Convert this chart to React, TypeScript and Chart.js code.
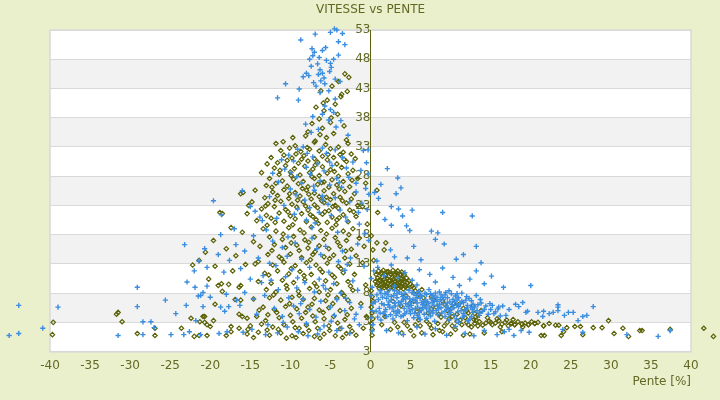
import React, { useEffect, useRef } from 'react';
import Chart from 'chart.js/auto';

// [pente %, vitesse] pairs
const bluePoints: number[][] = [
  // top spike
  [-4.5, 53.2], [-4.2, 53], [-3.5, 52.4], [-6.9, 52.3], [-5.0, 52.6], [-8.7, 51.3], [-4.0, 51.0], [-3.2, 50.5],
  [-5.6, 50.0], [-7.3, 49.8], [-7.0, 49.2], [-6.0, 49.5], [-7.2, 48.6], [-6.4, 48.3], [-4.6, 48.0], [-5.5, 47.8],
  [-7.6, 48.0], [-4.0, 48.7], [-6.6, 47.2], [-5.0, 47.3], [-7.4, 46.8], [-4.9, 46.6], [-6.3, 46.2], [-6.0, 45.6],
  [-5.1, 45.9], [-8.0, 45.6], [-7.7, 45.2], [-6.5, 45.4], [-5.8, 44.8], [-8.4, 45.0], [-4.4, 44.6], [-6.2, 44.3],
  [-7.1, 44.0], [-5.7, 43.8], [-3.8, 44.2], [-6.8, 43.4], [-8.9, 42.9], [-5.2, 42.6], [-6.3, 42.3], [-10.6, 43.8],
  [-11.6, 41.4], [-9.0, 41.0], [-4.4, 41.2], [-5.7, 40.0], [-5.0, 39.4], [-6.0, 38.6], [-7.2, 38.2], [-4.6, 38.9],
  [-3.7, 37.5], [-8.1, 36.9], [-5.2, 37.6], [-6.5, 36.0], [-2.8, 35.0], [-7.4, 35.5], [-4.3, 36.4],
  // middle of the left cloud
  [-8.4, 33.0], [-9.1, 32.6], [-6.0, 32.8], [-4.4, 32.5], [-10.2, 31.6], [-7.2, 31.3], [-5.5, 31.9], [-3.5, 31.2],
  [-2.2, 30.4], [-9.6, 30.6], [-11.1, 30.8], [-6.6, 30.1], [-4.8, 29.8], [-8.0, 29.5], [-10.7, 29.2], [-3.0, 29.4],
  [-5.8, 28.9], [-7.5, 28.4], [-12.2, 28.5], [-9.2, 27.9], [-4.2, 27.6], [-2.7, 27.8], [-6.3, 27.2], [-8.6, 26.8],
  [-11.5, 27.0], [-5.1, 26.5], [-3.6, 26.1], [-10.0, 25.8], [-7.0, 25.6], [-1.8, 25.3], [-9.3, 24.8], [-6.0, 24.6],
  [-4.4, 24.3], [-12.6, 24.5], [-8.2, 23.9], [-2.6, 23.6], [-5.3, 23.2], [-10.8, 23.0], [-7.6, 22.6], [-3.8, 22.2],
  [-14.4, 22.0], [-6.4, 21.8], [-9.5, 21.5], [-1.5, 21.8], [-4.9, 21.3], [-11.7, 20.8], [-8.0, 20.5], [-2.9, 20.3],
  [-13.5, 20.4], [-6.9, 20.0],
  [-7.9, 31.9], [-5.1, 30.4], [-9.9, 28.6], [-3.9, 26.9], [-7.1, 26.3], [-5.9, 23.9], [-9.1, 22.4], [-3.1, 21.0],
  [-7.3, 19.2], [-4.1, 18.4], [-10.3, 17.6], [-6.7, 15.6], [-2.9, 12.9], [-9.1, 10.6], [-5.9, 9.3], [-3.1, 7.1],
  [-8.7, 6.2], [-4.9, 3.2], [-10.9, 3.0], [-6.3, 1.8], [-2.6, 1.1], [-13.1, 0.9],
  [-0.9, 32.4], [-0.5, 30.3], [-1.2, 29.0], [-0.3, 28.4], [-1.8, 26.8], [-0.6, 25.9], [-0.2, 24.9], [-1.1, 23.4],
  [-0.4, 22.3], [-1.4, 19.8], [-0.7, 18.2], [-0.2, 17.0], [-1.6, 16.4],
  [-19.6, 23.8], [-18.6, 21.4], [-16.0, 25.5], [-15.0, 22.8], [-13.8, 21.0], [-17.0, 19.0], [-18.7, 18.0], [-16.8, 16.3],
  [-14.6, 17.8], [-13.0, 18.8], [-12.2, 16.9], [-15.7, 15.2], [-19.0, 14.6], [-20.7, 15.6], [-17.6, 13.6], [-14.0, 14.0],
  [-12.6, 13.1], [-16.2, 12.2], [-20.4, 12.4], [-18.3, 11.6], [-13.4, 11.0], [-15.0, 10.4], [-22.0, 11.8], [-23.2, 16.3],
  [-21.4, 13.5],
  // lower left cloud
  [-11.0, 15.8], [-9.4, 16.6], [-7.3, 17.4], [-5.6, 16.0], [-3.5, 15.2], [-10.4, 14.3], [-8.6, 13.8], [-6.2, 14.6],
  [-4.0, 13.4], [-2.5, 14.0], [-11.8, 12.7], [-9.8, 12.0], [-7.6, 12.4], [-5.2, 11.6], [-3.2, 11.9], [-12.4, 10.2],
  [-10.6, 10.8], [-8.2, 9.8], [-6.4, 10.4], [-4.6, 9.6], [-2.2, 10.1], [-11.5, 8.6], [-9.2, 8.9], [-7.0, 8.2],
  [-5.6, 8.7], [-3.7, 8.0], [-1.6, 8.5], [-13.2, 7.6], [-10.2, 7.2], [-8.4, 7.0], [-6.2, 6.6], [-4.2, 6.9],
  [-2.6, 6.4], [-12.0, 5.4], [-9.6, 5.8], [-7.6, 5.2], [-5.0, 5.6], [-3.2, 5.0], [-1.2, 5.6], [-14.2, 4.4],
  [-11.0, 4.0], [-8.9, 4.5], [-6.8, 3.9], [-4.5, 4.2], [-2.0, 3.6], [-12.8, 2.6], [-10.4, 2.2], [-8.0, 2.8],
  [-5.8, 2.4], [-3.6, 2.0], [-1.4, 2.6], [-11.6, 1.2], [-9.0, 1.4], [-6.6, 1.0], [-4.2, 1.6], [-7.8, 0.7],
  [-14.8, 1.8], [-13.6, 9.8], [-14.6, 7.0], [-0.8, 12.6], [-1.8, 4.4],
  // far left
  [-43.9, 5.9], [-45.1, 0.75], [-43.9, 1.1], [-40.9, 2.0], [-39.0, 5.6], [-29.1, 9.0], [-29.1, 5.7], [-28.4, 3.1],
  [-27.4, 3.1], [-31.5, 0.75], [-28.4, 0.9], [-27.0, 2.1], [-25.6, 6.8], [-24.9, 0.9], [-24.3, 4.5], [-23.3, 0.9],
  [-22.6, 1.4], [-23.0, 5.9], [-22.9, 9.9], [-21.9, 9.0], [-21.8, 3.3], [-21.5, 7.5], [-21.2, 7.6], [-20.9, 8.1],
  [-20.4, 9.2], [-20.0, 7.3], [-20.9, 5.7], [-21.2, 0.9], [-18.9, 1.1], [-18.7, 5.6], [-18.2, 4.9], [-17.9, 1.4],
  [-18.0, 7.8], [-17.7, 5.7], [-16.7, 6.8], [-16.3, 5.9], [-15.7, 8.1], [-15.9, 1.3],
  // on the zero line
  [0.2, 9.0], [0.1, 7.6], [0.3, 6.2], [0.2, 5.0], [0.1, 3.8], [0.3, 2.6], [0.2, 1.5], [0.1, 10.5], [0.4, 11.8],
  // right blob
  [1.2, 8.4], [2.4, 8.6], [3.6, 8.2], [4.8, 8.5], [6.0, 8.3], [7.3, 8.6], [8.6, 8.2], [9.8, 8.4], [11.4, 8.0],
  [0.8, 7.7], [1.8, 7.9], [2.9, 7.6], [3.9, 7.8], [4.6, 7.4], [5.4, 7.9], [6.4, 7.5], [7.0, 7.8], [7.9, 7.3],
  [8.8, 7.7], [9.6, 7.2], [10.6, 7.5], [12.0, 7.4], [13.2, 7.6],
  [1.0, 6.9], [2.0, 7.1], [2.6, 6.8], [3.3, 7.2], [4.1, 6.9], [4.9, 7.0], [5.6, 6.7], [6.2, 7.1], [6.9, 6.8],
  [7.6, 7.0], [8.3, 6.6], [9.1, 6.9], [9.9, 6.5], [10.8, 6.8], [11.6, 6.4], [12.6, 6.7], [13.8, 6.3],
  [1.4, 6.2], [2.2, 6.0], [3.0, 6.3], [3.7, 6.0], [4.4, 6.2], [5.1, 5.9], [5.8, 6.3], [6.5, 6.0], [7.2, 6.2],
  [7.9, 5.9], [8.6, 6.1], [9.4, 5.8], [10.2, 6.0], [11.0, 5.7], [12.1, 5.9], [13.0, 5.6], [14.4, 5.8],
  [1.1, 5.4], [1.9, 5.2], [2.7, 5.5], [3.4, 5.1], [4.2, 5.4], [4.9, 5.1], [5.6, 5.4], [6.3, 5.0], [7.0, 5.3],
  [7.7, 5.0], [8.5, 5.3], [9.3, 4.9], [10.0, 5.2], [10.9, 4.8], [11.8, 5.1], [12.8, 4.7], [14.0, 4.9], [15.4, 4.5],
  [1.6, 4.5], [2.5, 4.3], [3.3, 4.6], [4.1, 4.2], [5.0, 4.5], [5.9, 4.2], [6.7, 4.4], [7.5, 4.1], [8.4, 4.3],
  [9.3, 4.0], [10.4, 4.2], [11.5, 3.9], [12.6, 4.0], [13.6, 4.2], [16.2, 4.1],
  [1.5, 7.3], [2.3, 6.5], [3.1, 5.8], [3.9, 6.6], [4.7, 5.7], [5.3, 6.9], [5.9, 5.6], [6.7, 6.6], [7.4, 5.6],
  [8.0, 6.7], [8.8, 5.5], [9.6, 6.3], [10.4, 5.5], [11.2, 6.2], [12.0, 5.3], [12.8, 6.1], [1.8, 4.8], [2.9, 4.9],
  [3.8, 4.0], [4.5, 4.8], [5.4, 3.8], [6.1, 4.7], [7.0, 3.7], [7.8, 4.6], [8.9, 4.6], [9.8, 4.4], [10.7, 3.6],
  [11.6, 4.5], [12.4, 3.6], [13.3, 5.0], [14.7, 4.4], [15.0, 5.2], [2.1, 8.2], [3.3, 7.9], [4.3, 8.0], [5.7, 7.6],
  [6.8, 8.0], [8.1, 8.0], [9.3, 7.7], [10.1, 7.9], [11.0, 7.2], [0.6, 6.5], [0.7, 4.9], [0.9, 3.9],
  [1.3, 8.0], [2.6, 7.4], [3.5, 6.4], [4.4, 7.1], [5.0, 6.4], [5.8, 7.2], [6.5, 5.5], [7.1, 6.5], [7.8, 7.6],
  [8.4, 5.8], [9.0, 7.3], [9.7, 5.5], [10.5, 6.5], [11.3, 5.0], [11.9, 6.8], [12.5, 5.6], [13.4, 6.0], [14.2, 5.2],
  [1.7, 6.0], [2.4, 5.6], [3.6, 4.8], [4.8, 6.0], [5.5, 4.6], [6.4, 6.4], [7.3, 4.8], [8.2, 5.0], [9.1, 6.2],
  [10.0, 4.7], [10.8, 5.9], [11.7, 4.2], [12.7, 5.2], [13.6, 4.6], [2.0, 4.0], [3.2, 4.2], [4.3, 4.5], [5.2, 5.2],
  [6.0, 3.9], [6.9, 5.8], [7.7, 6.4], [8.7, 6.9], [9.5, 5.2], [10.3, 6.9], [11.4, 6.6], [12.3, 7.1], [1.2, 4.6],
  [2.2, 7.7], [3.0, 8.4], [4.0, 7.4], [5.2, 8.1], [6.2, 7.7], [7.5, 7.9], [8.3, 7.3], [9.4, 8.1], [10.8, 7.9],
  [14.9, 6.2], [15.6, 4.8], [16.0, 5.6],
  [1.3, 3.4], [2.8, 3.6], [4.6, 3.3], [6.2, 3.5], [8.0, 3.2], [9.8, 3.4], [11.0, 3.0], [12.2, 3.3],
  [2.0, 1.6], [3.5, 1.2], [4.1, 0.9], [5.8, 2.2], [6.8, 1.0], [8.1, 1.9], [9.5, 0.8], [10.6, 2.3], [11.8, 1.1],
  [12.9, 0.7], [14.2, 1.6], [15.8, 0.9],
  [0.9, 12.4], [1.7, 11.0], [2.6, 12.8], [3.4, 10.6], [4.3, 11.5], [5.2, 10.2], [6.1, 12.0], [7.4, 11.2], [8.1, 9.9],
  [9.0, 12.3], [10.3, 10.7], [11.1, 9.3], [12.4, 10.4], [13.2, 11.8], [14.2, 9.6], [15.1, 10.9], [5.8, 9.4], [3.0, 9.2],
  [16.6, 9.0],
  // right tail
  [15.2, 5.9], [13.7, 6.9], [16.9, 4.2], [17.3, 5.2], [18.1, 6.1], [18.5, 5.7], [19.0, 6.4], [19.4, 4.7], [19.6, 4.9],
  [20.9, 4.7], [21.5, 4.0], [21.6, 4.9], [22.3, 4.5], [22.8, 4.7], [23.4, 5.0], [23.4, 5.6], [23.4, 6.0], [24.2, 4.2],
  [24.7, 4.7], [25.3, 4.7], [25.9, 3.3], [26.5, 4.0], [27.0, 4.2], [27.8, 5.7], [24.0, 1.8], [26.5, 1.3], [32.0, 0.9],
  [35.9, 0.6], [37.4, 1.6], [20.0, 9.3], [19.8, 1.3], [18.8, 1.6], [17.9, 0.75], [16.7, 1.4], [17.3, 1.8], [15.9, 5.3],
  [16.5, 5.8],
  // upper right
  [3.4, 27.7], [2.1, 29.3], [-0.3, 32.5], [1.3, 26.6], [0.5, 25.2], [3.8, 26.0], [3.2, 25.0], [1.0, 24.2], [2.6, 22.8],
  [3.5, 22.4], [5.2, 22.2], [9.0, 21.8], [12.7, 21.2], [4.0, 21.2], [1.8, 20.6], [4.5, 19.5], [4.9, 18.7], [2.6, 19.6],
  [7.6, 18.6], [8.4, 18.3], [8.1, 17.2], [9.2, 16.4], [13.2, 16.0], [5.4, 16.0], [2.5, 15.4], [6.3, 13.7], [0.8, 13.5],
  [3.0, 14.2], [4.6, 14.0], [11.6, 14.6], [13.8, 13.2], [10.7, 13.8],
];

const olivePoints: number[][] = [
  // top spike
  [-3.2, 45.5], [-2.7, 44.9], [-4.0, 44.2], [-4.8, 43.4], [-6.2, 42.6], [-3.6, 42.0], [-5.4, 41.0], [-4.4, 40.3],
  [-6.8, 39.8], [-5.8, 39.2], [-4.1, 38.6], [-6.4, 37.8], [-7.3, 37.0], [-5.0, 37.2], [-3.3, 36.6], [-6.0, 36.2],
  [-7.8, 35.6], [-4.6, 35.3], [-5.5, 34.6], [-3.0, 34.2], [-6.9, 34.0], [-3.7, 41.6], [-2.9, 42.5], [-4.9, 38.0],
  [-5.9, 40.5],
  // middle of the left cloud
  [-11.8, 33.6], [-9.4, 33.2], [-7.0, 33.8], [-5.6, 33.4], [-4.0, 33.0], [-2.8, 33.6],
  [-11.2, 32.4], [-10.1, 32.8], [-8.7, 32.2], [-7.6, 32.6], [-6.4, 32.3], [-5.0, 32.7], [-3.4, 32.1], [-2.4, 31.8],
  [-12.4, 31.2], [-10.8, 31.6], [-9.8, 31.1], [-8.3, 31.5], [-7.0, 31.0], [-6.0, 31.4], [-4.6, 31.2], [-3.8, 31.7], [-1.9, 31.0],
  [-11.6, 30.3], [-10.4, 30.7], [-9.0, 30.2], [-7.8, 30.6], [-6.6, 30.4], [-5.4, 30.8], [-4.2, 30.1], [-3.0, 30.5],
  [-12.0, 29.4], [-10.6, 29.8], [-9.5, 29.3], [-8.2, 29.7], [-7.2, 29.2], [-6.0, 29.6], [-5.0, 29.1], [-3.6, 29.5], [-2.2, 29.0],
  [-13.6, 28.6], [-11.4, 28.3], [-10.0, 28.7], [-8.8, 28.2], [-7.6, 28.6], [-6.4, 28.1], [-5.4, 28.5], [-4.0, 28.0], [-2.8, 28.4],
  [-12.6, 27.6], [-11.0, 27.2], [-9.6, 27.5], [-8.4, 27.1], [-7.0, 27.6], [-5.8, 27.0], [-4.8, 27.4], [-3.4, 27.1], [-1.6, 27.6],
  [-13.0, 26.4], [-11.8, 26.8], [-10.4, 26.3], [-9.0, 26.7], [-7.8, 26.2], [-6.6, 26.6], [-5.2, 26.1], [-4.2, 26.5], [-2.6, 26.2],
  [-14.4, 25.6], [-12.2, 25.3], [-10.8, 25.7], [-9.4, 25.2], [-8.0, 25.6], [-7.0, 25.1], [-5.8, 25.5], [-4.6, 25.0], [-3.2, 25.4], [-2.0, 25.0],
  [-13.2, 24.3], [-11.6, 24.7], [-10.2, 24.2], [-8.8, 24.6], [-7.4, 24.1], [-6.4, 24.5], [-5.0, 24.0], [-3.8, 24.4], [-2.4, 24.1],
  [-14.8, 23.6], [-12.8, 23.3], [-11.2, 23.7], [-9.8, 23.2], [-8.4, 23.6], [-7.0, 23.1], [-5.8, 23.5], [-4.4, 23.0], [-3.0, 23.4], [-1.6, 23.0],
  [-13.6, 22.4], [-12.0, 22.8], [-10.6, 22.3], [-9.2, 22.7], [-7.8, 22.2], [-6.6, 22.6], [-5.2, 22.1], [-4.0, 22.5], [-2.6, 22.2],
  [-15.4, 21.6], [-13.0, 21.3], [-11.4, 21.7], [-10.0, 21.2], [-8.6, 21.6], [-7.2, 21.1], [-6.0, 21.5], [-4.8, 21.0], [-3.4, 21.4], [-1.8, 21.1],
  [-14.2, 20.4], [-12.4, 20.8], [-10.8, 20.3], [-9.4, 20.7], [-8.0, 20.2], [-6.8, 20.6], [-5.4, 20.1], [-4.2, 20.5], [-2.8, 20.2],
  [-9.7, 34.6], [-8.1, 34.9], [-6.3, 35.1], [-10.9, 33.9], [-7.9, 32.9], [-5.3, 31.7], [-9.3, 31.8], [-12.9, 30.1],
  [-8.6, 30.9], [-3.3, 30.9], [-6.9, 29.9], [-11.3, 29.0], [-4.5, 28.8], [-7.3, 27.9], [-9.9, 28.1], [-2.3, 27.3],
  [-12.3, 26.1], [-6.1, 26.9], [-8.5, 25.9], [-3.9, 25.8], [-10.1, 25.0], [-5.5, 24.4], [-7.7, 24.9], [-11.9, 23.9],
  [-3.5, 23.8], [-9.1, 23.9], [-6.1, 23.8], [-13.1, 22.9], [-4.7, 22.8], [-8.1, 22.9], [-10.3, 21.9], [-5.7, 21.9],
  [-7.5, 21.4], [-2.1, 21.9], [-11.9, 20.1], [-3.9, 20.9], [-9.7, 19.7], [-6.5, 19.9], [-12.9, 19.6], [-4.3, 19.7],
  [-18.8, 21.8], [-18.5, 21.6], [-16.2, 25.0], [-15.9, 25.2], [-15.2, 23.0], [-17.4, 19.2], [-16.0, 18.4], [-19.6, 17.0],
  [-20.6, 15.0], [-21.4, 13.6], [-18.0, 15.6], [-16.8, 14.4], [-19.4, 12.6], [-17.2, 11.8], [-20.2, 10.4], [-15.6, 12.9],
  [-18.6, 9.6], [-16.4, 9.0], [-14.6, 16.8], [-14.0, 13.4], [-22.2, 12.8],
  // lower left cloud
  [-13.4, 19.0], [-11.8, 18.6], [-10.2, 19.2], [-8.8, 18.8], [-7.4, 19.3], [-6.2, 18.7], [-4.8, 19.1], [-3.4, 18.6], [-2.2, 19.0],
  [-12.6, 17.6], [-11.0, 17.2], [-9.6, 17.7], [-8.2, 17.1], [-7.0, 17.6], [-5.8, 17.2], [-4.4, 17.5], [-3.0, 17.0], [-1.4, 17.4],
  [-13.8, 16.0], [-12.0, 16.3], [-10.6, 15.8], [-9.2, 16.2], [-7.8, 15.7], [-6.4, 16.1], [-5.2, 15.6], [-3.8, 16.0], [-2.4, 15.5],
  [-12.8, 14.6], [-11.4, 14.2], [-10.0, 14.7], [-8.6, 14.1], [-7.2, 14.6], [-5.8, 14.2], [-4.6, 14.5], [-3.2, 14.0], [-1.8, 14.4],
  [-14.4, 13.0], [-12.2, 12.8], [-10.8, 13.3], [-9.4, 12.7], [-8.0, 13.2], [-6.8, 12.8], [-5.4, 13.1], [-4.0, 12.6], [-2.6, 13.0],
  [-13.2, 11.4], [-11.6, 11.8], [-10.2, 11.3], [-8.8, 11.7], [-7.4, 11.2], [-6.0, 11.6], [-4.8, 11.1], [-3.4, 11.5], [-2.0, 11.2],
  [-14.0, 10.0], [-12.4, 9.7], [-11.0, 10.2], [-9.6, 9.8], [-8.2, 10.3], [-7.0, 9.7], [-5.6, 10.1], [-4.2, 9.6], [-2.8, 10.0],
  [-13.0, 8.6], [-11.8, 8.2], [-10.4, 8.7], [-9.0, 8.3], [-7.6, 8.8], [-6.4, 8.2], [-5.0, 8.6], [-3.6, 8.1], [-2.2, 8.5],
  [-14.6, 7.0], [-12.6, 7.2], [-11.2, 6.8], [-9.8, 7.3], [-8.4, 6.9], [-7.0, 7.1], [-5.6, 6.7], [-4.2, 7.2], [-2.8, 6.8],
  [-13.4, 5.6], [-12.0, 5.2], [-10.6, 5.7], [-9.2, 5.3], [-7.8, 5.6], [-6.4, 5.1], [-5.2, 5.5], [-3.8, 5.0], [-2.4, 5.4],
  [-14.2, 4.0], [-12.8, 4.3], [-11.4, 3.8], [-10.0, 4.2], [-8.6, 3.7], [-7.2, 4.1], [-5.8, 3.6], [-4.6, 4.0], [-3.2, 3.5],
  [-15.0, 2.4], [-13.6, 2.7], [-12.2, 2.2], [-10.8, 2.6], [-9.4, 2.1], [-8.0, 2.5], [-6.6, 2.0], [-5.2, 2.4], [-3.8, 1.9], [-2.6, 2.3],
  [-15.4, 1.0], [-14.0, 1.3], [-12.6, 0.8], [-11.2, 1.2], [-9.8, 0.7], [-8.4, 1.1], [-7.0, 0.6], [-5.8, 1.0], [-4.4, 0.7], [-3.0, 1.1], [-1.8, 0.8],
  [-8.3, 18.3], [-10.9, 18.1], [-5.5, 18.1], [-2.7, 18.0], [-7.7, 16.7], [-9.9, 16.6], [-12.3, 15.3], [-4.1, 16.7],
  [-6.9, 15.1], [-3.1, 15.2], [-8.9, 15.3], [-11.1, 13.9], [-5.1, 13.9], [-7.5, 13.7], [-9.9, 12.2], [-6.3, 12.1],
  [-3.7, 12.2], [-12.7, 11.1], [-8.3, 11.0], [-4.5, 10.7], [-10.5, 9.3], [-6.7, 9.1], [-2.5, 9.2], [-12.1, 7.7],
  [-8.9, 7.6], [-5.3, 7.7], [-3.3, 7.6], [-10.1, 6.2], [-7.3, 6.1], [-4.7, 6.2], [-13.9, 5.1], [-8.1, 4.7],
  [-11.7, 4.7], [-5.9, 4.7], [-2.9, 4.3], [-9.7, 3.1], [-6.9, 3.1], [-4.1, 2.9], [-13.1, 3.3], [-11.5, 1.8],
  [-7.7, 1.6], [-5.1, 1.6], [-2.3, 1.5], [-9.3, 0.4], [-6.3, 0.3], [-3.5, 0.4], [-14.6, 0.4], [-10.5, 0.3],
  [-12.9, 1.7], [-8.9, 2.0],
  [-0.8, 16.0], [-1.0, 13.2], [-0.6, 9.4], [-1.2, 6.2], [-0.5, 4.0], [-0.9, 2.0], [-0.4, 19.8], [-1.0, 22.8], [-0.6, 26.8],
  // far left
  [-39.6, 3.0], [-39.7, 0.9], [-31.7, 4.4], [-31.5, 4.7], [-31.0, 3.1], [-29.1, 1.1], [-26.9, 2.0], [-26.9, 0.75],
  [-23.6, 2.0], [-22.4, 3.7], [-22.0, 0.6], [-21.4, 0.75], [-21.3, 3.1], [-20.9, 4.0], [-20.7, 4.0], [-20.7, 3.0],
  [-20.4, 2.6], [-20.0, 2.3], [-19.6, 3.3], [-20.4, 0.75], [-19.4, 6.1], [-19.0, 9.3], [-18.5, 8.3], [-17.7, 9.5],
  [-17.4, 2.3], [-17.4, 1.4], [-18.0, 0.75], [-16.9, 6.9], [-16.2, 6.8], [-16.4, 4.4], [-16.0, 4.0], [-15.4, 3.7],
  [-16.4, 2.0], [-15.3, 1.8], [-16.2, 9.3],
  // on the zero line
  [0.2, 0.8], [0.2, 1.8], [0.1, 2.8], [0.3, 3.6], [0.2, 4.6], [0.1, 5.6], [0.3, 6.6], [0.2, 7.4], [0.1, 8.4],
  [0.3, 15.4], [0.1, 17.8], [0.4, 13.6], [0.8, 16.6], [0.8, 25.6], [0.9, 21.8], [1.9, 16.6], [1.7, 15.4],
  // right blob
  [1.0, 11.8], [1.6, 11.9], [2.2, 11.7], [2.8, 11.9], [3.4, 11.8], [3.9, 11.6],
  [0.7, 11.2], [1.3, 11.3], [1.9, 11.1], [2.5, 11.3], [3.1, 11.2], [3.7, 11.1], [4.2, 11.2],
  [0.9, 10.6], [1.5, 10.7], [2.1, 10.5], [2.7, 10.7], [3.3, 10.6], [3.9, 10.5], [4.5, 10.6],
  [0.6, 10.0], [1.2, 10.1], [1.8, 9.9], [2.4, 10.1], [3.0, 10.0], [3.6, 9.9], [4.2, 10.0], [4.8, 10.1],
  [0.8, 9.4], [1.4, 9.5], [2.0, 9.3], [2.6, 9.5], [3.2, 9.4], [3.8, 9.3], [4.4, 9.4], [5.0, 9.5],
  [1.1, 8.8], [1.7, 8.9], [2.3, 8.7], [2.9, 8.9], [3.5, 8.8], [4.1, 8.7], [4.7, 8.8], [5.4, 8.9],
  [1.4, 11.5], [2.0, 11.6], [2.6, 11.2], [3.2, 11.5], [3.8, 11.2], [1.1, 10.3], [1.7, 10.4], [2.3, 10.2], [2.9, 10.4],
  [3.5, 10.2], [4.1, 10.3], [0.9, 9.7], [1.5, 9.8], [2.1, 9.6], [2.7, 9.8], [3.3, 9.7], [3.9, 9.6], [4.6, 9.8],
  [1.4, 9.0], [2.0, 9.1], [2.6, 9.0], [3.2, 9.1], [3.8, 9.0], [4.4, 9.1], [5.2, 9.2], [5.6, 8.4],
  [4.4, 7.6], [5.4, 6.6], [6.0, 7.8], [6.8, 6.2], [7.6, 7.4], [8.2, 5.6], [9.0, 6.6], [9.6, 5.0], [10.4, 6.2],
  [10.8, 4.4], [11.6, 5.4], [12.2, 4.6], [12.8, 5.8], [13.4, 4.2], [5.8, 4.8], [7.2, 4.6], [8.8, 3.9], [9.8, 3.6],
  [11.2, 3.4], [3.8, 5.8], [2.8, 6.6], [6.4, 8.6], [13.8, 5.0], [14.6, 3.8],
  [6.6, 7.2], [7.9, 6.9], [9.3, 6.0], [10.1, 5.4], [11.0, 6.0], [12.0, 5.0], [13.0, 4.5], [4.9, 6.3], [6.3, 5.2],
  [7.6, 5.3], [8.5, 4.4], [10.2, 4.0], [11.8, 3.8], [12.9, 3.5],
  // low band to the right
  [3.4, 2.2], [4.2, 3.0], [5.0, 1.6], [5.6, 2.6], [6.4, 1.2], [7.0, 3.2], [7.6, 2.0], [8.4, 2.8], [9.0, 1.4],
  [9.6, 3.0], [10.2, 2.4], [10.8, 3.2], [11.4, 2.6], [12.0, 3.0], [12.6, 2.2], [13.0, 2.8], [13.6, 3.1], [14.0, 2.5],
  [14.4, 2.9], [14.8, 3.2], [15.2, 2.6], [15.6, 2.9], [16.0, 3.3], [16.4, 2.7], [16.8, 3.0], [17.2, 2.4], [17.6, 2.8],
  [18.0, 2.6], [18.4, 3.1], [18.9, 2.7], [19.3, 2.9], [19.7, 2.6], [20.5, 2.8], [20.9, 3.0], [21.6, 2.4], [12.4, 1.0],
  [11.6, 0.8], [14.2, 1.2], [10.0, 1.0], [7.8, 0.9], [5.4, 0.7], [16.4, 1.4], [13.2, 3.4], [15.8, 3.6], [17.8, 3.5],
  [6.2, 2.4], [8.6, 1.6],
  [3.0, 3.0], [4.6, 2.4], [6.0, 3.4], [7.4, 2.6], [9.2, 2.4], [10.6, 1.8], [12.2, 2.6], [13.4, 2.4], [15.0, 3.0],
  [16.2, 2.2], [17.0, 3.4], [19.0, 2.2], [20.1, 3.1], [22.3, 2.8], [3.9, 1.2], [2.5, 1.8], [1.4, 2.6], [1.8, 4.0],
  // far right
  [41.6, 2.0], [42.8, 0.6], [37.4, 1.8], [33.6, 1.6], [33.9, 1.6], [32.2, 0.6], [31.5, 2.0], [30.4, 1.1], [29.7, 3.3],
  [28.9, 2.1], [27.8, 2.1], [26.5, 0.9], [26.2, 2.3], [25.5, 2.3], [24.5, 2.1], [24.1, 1.4], [23.8, 0.75], [23.5, 2.5],
  [23.1, 2.5], [21.7, 0.75], [21.3, 0.75], [21.6, 2.4], [20.5, 2.8], [19.7, 2.6], [18.9, 2.7], [18.0, 2.6], [17.5, 2.8],
];

// y tick labels exactly as printed on the chart (bottom one reads "3")
const yTickLabels = ['3', '3', '8', '13', '18', '23', '28', '33', '38', '43', '48', '53'];

const chartTitle = 'VITESSE vs PENTE';
const xAxisTitle = 'Pente [%]';

const textColor = '#626824';
const fontFamily = '"DejaVu Sans", sans-serif';

// paints the page colour, the white plot and the grey bands
const bandsPlugin = {
  id: 'bands',
  beforeDraw(chart: any) {
    const { ctx, chartArea, scales } = chart;
    ctx.save();
    ctx.fillStyle = '#ebf0cc';
    ctx.fillRect(0, 0, chart.width, chart.height);
    ctx.fillStyle = '#ffffff';
    ctx.fillRect(chartArea.left, chartArea.top, chartArea.right - chartArea.left, chartArea.bottom - chartArea.top);
    const ticks = scales.y.ticks;
    ctx.fillStyle = '#f2f2f2';
    for (let i = 1; i < ticks.length - 1; i += 2) {
      const y1 = scales.y.getPixelForValue(ticks[i].value);
      const y2 = scales.y.getPixelForValue(ticks[i + 1].value);
      ctx.fillRect(chartArea.left, y2, chartArea.right - chartArea.left, y1 - y2);
    }
    ctx.strokeStyle = '#d9d9d9';
    ctx.lineWidth = 1.5;
    ctx.strokeRect(chartArea.left, chartArea.top, chartArea.right - chartArea.left, chartArea.bottom - chartArea.top);
    ctx.restore();
  },
  // Chart.js skips points that fall outside the plot; the original shows them
  afterDatasetsDraw(chart: any) {
    const { ctx, chartArea } = chart;
    const wide = { left: -1e4, top: -1e4, right: 1e4, bottom: 1e4 };
    for (let d = chart.data.datasets.length - 1; d >= 0; d--) {
      const meta = chart.getDatasetMeta(d);
      meta.data.forEach((el: any) => {
        if (el.x < chartArea.left - 2 || el.x > chartArea.right + 2 || el.y < chartArea.top - 2 || el.y > chartArea.bottom + 2) {
          el.draw(ctx, wide);
        }
      });
    }
  },
};

const App: React.FC = () => {
  const canvasRef = useRef<HTMLCanvasElement>(null);

  useEffect(() => {
    document.body.style.margin = '0';
    if (!canvasRef.current) return;

    const chart = new Chart(canvasRef.current, {
      type: 'scatter',
      data: {
        datasets: [
          {
            label: 'bleu',
            data: bluePoints.map(([x, y]) => ({ x, y })),
            pointStyle: 'cross',
            pointRadius: 2.6,
            borderColor: '#3a8ddf',
            backgroundColor: '#3a8ddf',
            borderWidth: 1.4,
            clip: false,
          },
          {
            label: 'olive',
            data: olivePoints.map(([x, y]) => ({ x, y })),
            pointStyle: 'rectRot',
            pointRadius: 2.2,
            borderColor: '#5b6105',
            backgroundColor: 'rgba(0,0,0,0)',
            borderWidth: 1.2,
            clip: false,
          },
        ],
      },
      options: {
        animation: false,
        responsive: true,
        maintainAspectRatio: false,
        layout: { padding: { left: 50, right: 29, top: 0, bottom: 10.8 } },
        plugins: {
          legend: { display: false },
          tooltip: { enabled: false },
          title: {
            display: true,
            text: chartTitle,
            color: textColor,
            font: { family: fontFamily, size: 12, weight: 'normal' },
            padding: { top: 3, bottom: 12.6 },
          },
        },
        scales: {
          x: {
            type: 'linear',
            min: -40,
            max: 40,
            grid: { display: false, drawTicks: false },
            border: { color: '#d9d9d9', width: 1.5 },
            ticks: {
              stepSize: 5,
              padding: 7,
              color: textColor,
              font: { family: fontFamily, size: 12 },
            },
            title: {
              display: true,
              text: xAxisTitle,
              align: 'end',
              color: textColor,
              font: { family: fontFamily, size: 12 },
              padding: { top: -5.2, bottom: 0 },
            },
          },
          y: {
            type: 'linear',
            position: { x: 0 },
            min: -2,
            max: 53,
            grid: { color: '#d9d9d9', lineWidth: 1, drawTicks: false },
            border: { color: '#5c6211', width: 1 },
            ticks: {
              stepSize: 5,
              padding: 8,
              color: textColor,
              font: { family: fontFamily, size: 12 },
              callback: (_v: any, i: number) => yTickLabels[i],
            },
          },
        },
      },
      plugins: [bandsPlugin],
    });

    return () => chart.destroy();
  }, []);

  return (
    <div style={{ width: 720, height: 400 }}>
      <canvas ref={canvasRef} />
    </div>
  );
};

export default App;
